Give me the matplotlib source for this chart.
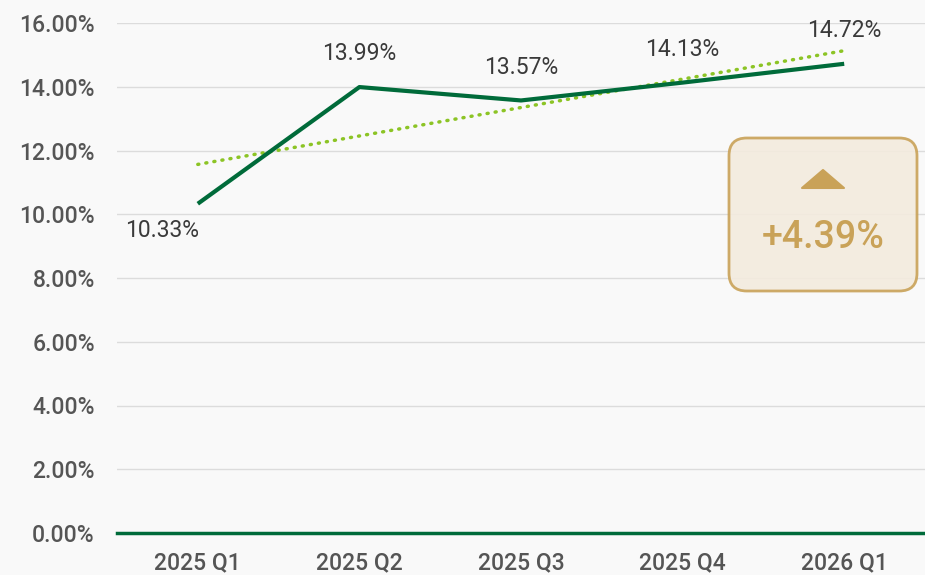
import numpy as np
import matplotlib
matplotlib.use("Agg")
import matplotlib.pyplot as plt
from matplotlib.patches import FancyBboxPatch, Polygon

quarters = ["2025 Q1", "2025 Q2", "2025 Q3", "2025 Q4", "2026 Q1"]
rates = [10.33, 13.99, 13.57, 14.13, 14.72]
change_label = "+4.39%"

plt.rcParams["font.family"] = ["Roboto", "DejaVu Sans"]

bg = "#f9f9f9"
line_green = "#006b3a"
trend_green = "#8cc425"
gold = "#c9a258"

fig = plt.figure(figsize=(9.25, 5.75), dpi=100, facecolor=bg)
ax = fig.add_axes([117 / 925, 42 / 575, 808 / 925, 510 / 575])
ax.set_facecolor(bg)

x = np.arange(len(quarters))
ax.plot(x, rates, color=line_green, lw=3, solid_capstyle="butt", zorder=4)

# linear trend through the quarterly values
slope, intercept = np.polyfit(x, rates, 1)
ax.plot(x, slope * x + intercept, color=trend_green, lw=2.5, ls=(0, (0.3, 2.05)),
        dash_capstyle="round", zorder=3)

for i, v in enumerate(rates):
    off = (-26, -19) if i == 0 else (0, 24)
    ax.annotate(f"{v:.2f}%", (i, v), xytext=off, textcoords="offset points",
                ha="center", va="center", fontsize=16.5, color="#3a3a3a", zorder=5)

ax.set_xlim(-0.5, len(quarters) - 0.5)
ax.set_ylim(0, 16)
yticks = np.arange(0, 17, 2)
ax.set_yticks(yticks)
ax.set_yticklabels([f"{t:.2f}%" for t in yticks])
ax.set_xticks(x)
ax.set_xticklabels(quarters)
ax.tick_params(axis="both", length=0, labelsize=16.5, labelcolor="#555555")
ax.tick_params(axis="y", pad=16)
ax.tick_params(axis="x", pad=13)
for lbl in ax.get_xticklabels() + ax.get_yticklabels():
    lbl.set_fontweight("medium")

ax.grid(axis="y", color="#dcdcdc", lw=1)
ax.set_axisbelow(True)
for s in ["top", "right", "left"]:
    ax.spines[s].set_visible(False)
ax.spines["bottom"].set_color(line_green)
ax.spines["bottom"].set_linewidth(2.5)
ax.spines["bottom"].set_zorder(5)

# change badge
bx0, bx1 = (729 - 117) / 808, (917 - 117) / 808
by0, by1 = (533 - 291) / 510, (533 - 138) / 510
box = FancyBboxPatch((bx0, by0), bx1 - bx0, by1 - by0,
                     boxstyle="round,pad=0,rounding_size=0.022",
                     mutation_aspect=808 / 510, transform=ax.transAxes,
                     facecolor="#f3ebde", edgecolor=gold, lw=2, alpha=0.9,
                     zorder=6, clip_on=False)
ax.add_patch(box)
tri = Polygon([((802 - 117) / 808, (533 - 188) / 510),
               ((844 - 117) / 808, (533 - 188) / 510),
               ((823 - 117) / 808, (533 - 170) / 510)],
              closed=True, transform=ax.transAxes, facecolor=gold,
              edgecolor=gold, lw=1.5, joinstyle="round", zorder=7)
ax.add_patch(tri)
ax.text((823 - 117) / 808, (533 - 237) / 510, change_label, transform=ax.transAxes,
        ha="center", va="center", fontsize=27, color=gold, fontweight="medium", zorder=7)

fig.savefig("out.png", dpi=100, facecolor=bg)
